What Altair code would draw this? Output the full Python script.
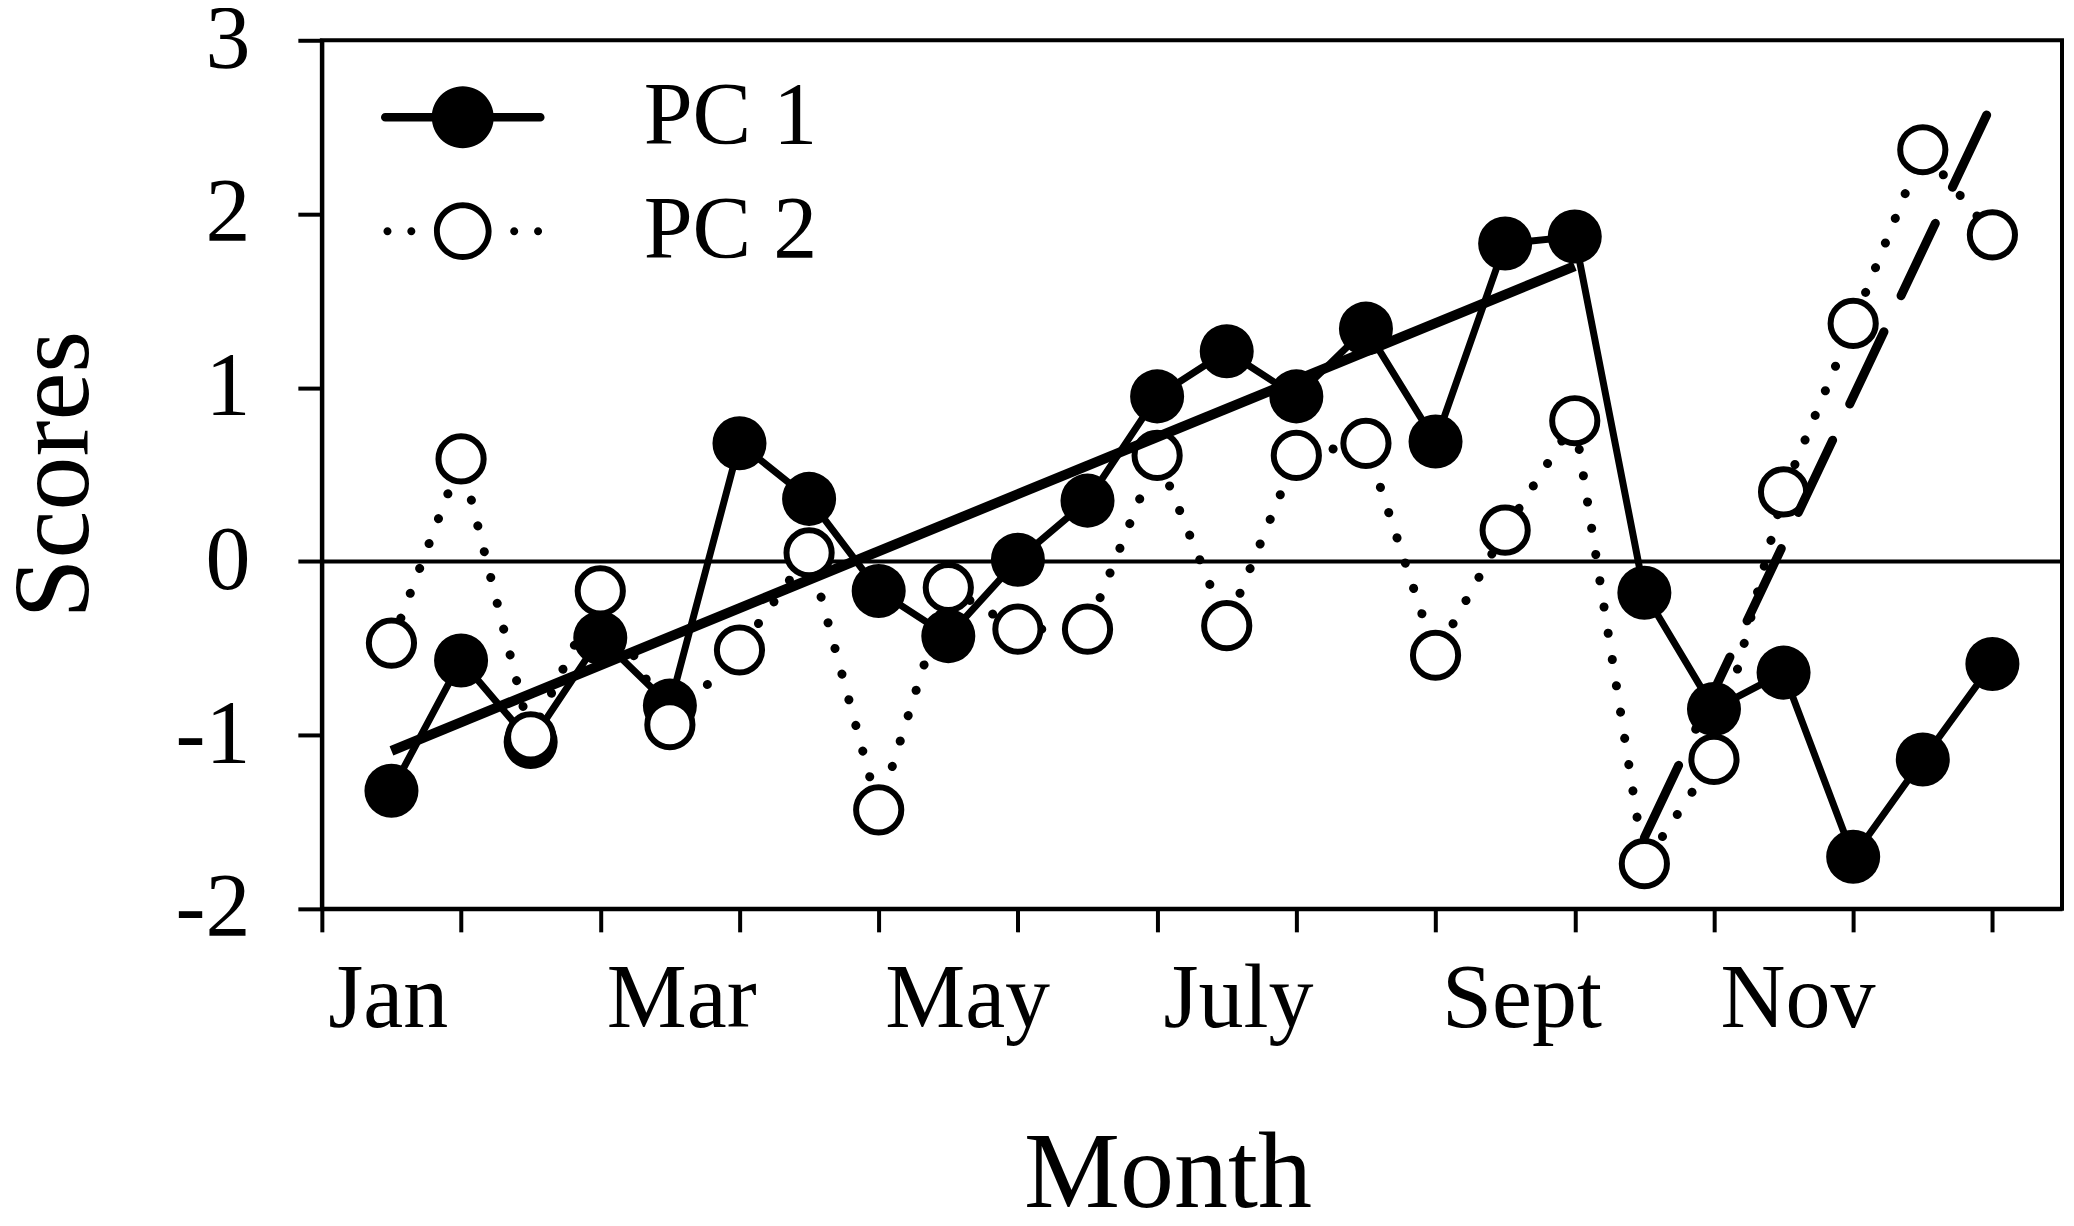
import altair as alt
import pandas as pd

# ---- data ----
months = [0.5 * (i + 1) for i in range(24)]  # twice-monthly samples, Jan..Dec
pc1 = [-1.32, -0.57, -1.04, -0.44, -0.83, 0.68, 0.36, -0.17, -0.43, 0.01, 0.35, 0.95,
       1.21, 0.95, 1.34, 0.69, 1.83, 1.87, -0.18, -0.85, -0.64, -1.70, -1.14, -0.59]
pc2 = [-0.47, 0.59, -1.01, -0.17, -0.94, -0.51, 0.05, -1.43, -0.15, -0.39, -0.39, 0.61,
       -0.37, 0.61, 0.68, -0.54, 0.18, 0.81, -1.74, -1.14, 0.40, 1.37, 2.37, 1.88]
series_names = ["PC 1", "PC 2"]

trend1_x = [0.5, 9.0]
trend1_y = [-1.09, 1.70]
trend2_x = [9.5, 12.0]
trend2_y = [-1.59, 2.64]

zero_line = [0]

tick_months = list(range(13))
label_positions = [0, 2, 4, 6, 8, 10]
label_names = ["Jan", "Mar", "May", "July", "Sept", "Nov"]
y_ticks = [-2, -1, 0, 1, 2, 3]

FONT = "Liberation Serif"

df1 = pd.DataFrame({"month": months, "score": pc1, "series": series_names[0]})
df2 = pd.DataFrame({"month": months, "score": pc2, "series": series_names[1]})
dft1 = pd.DataFrame({"month": trend1_x, "score": trend1_y})
dft2 = pd.DataFrame({"month": trend2_x, "score": trend2_y})
dfz = pd.DataFrame({"score": zero_line})

label_expr = " : ".join(
    f"datum.value == {p} ? '{n}'" for p, n in zip(label_positions, label_names)
) + " : ''"

x_scale = alt.Scale(domain=[0, 12.5], nice=False, zero=False)
y_scale = alt.Scale(domain=[-2, 3], nice=False, zero=False)

x_enc = alt.X(
    "month:Q",
    scale=x_scale,
    axis=alt.Axis(
        values=tick_months,
        labelExpr=label_expr,
        labelAlign="left",
        labelBaseline="alphabetic",
        labelPadding=95,
        labelOffset=6,
        labelFlush=False,
        labelOverlap=False,
        labelFont=FONT,
        labelFontSize=90,
        labelColor="black",
        tickSize=23,
        tickWidth=4,
        tickColor="black",
        domainWidth=4,
        domainColor="black",
        grid=False,
        title="Month",
        titleFont=FONT,
        titleFontSize=108,
        titleFontWeight="normal",
        titleColor="black",
        titleBaseline="alphabetic",
        titleX=846,
        titleY=298,
    ),
)
y_enc = alt.Y(
    "score:Q",
    scale=y_scale,
    axis=alt.Axis(
        values=y_ticks,
        labelExpr="datum.value + ''",
        labelAlign="right",
        labelBaseline="middle",
        labelPadding=48,
        labelFont=FONT,
        labelFontSize=90,
        labelColor="black",
        tickSize=24,
        tickWidth=4,
        tickColor="black",
        domainWidth=4,
        domainColor="black",
        grid=False,
        title="Scores",
        titleFont=FONT,
        titleFontSize=108,
        titleFontWeight="normal",
        titleColor="black",
        titleAngle=-90,
        titleAlign="center",
        titleBaseline="alphabetic",
        titleX=-234,
        titleY=434,
    ),
)

zero = alt.Chart(dfz).mark_rule(color="black", strokeWidth=4).encode(
    y=alt.Y("score:Q", scale=y_scale)
)

pc1_line = alt.Chart(df1).mark_line(color="black", strokeWidth=7).encode(x=x_enc, y=y_enc)
pc1_pts = alt.Chart(df1).mark_circle(color="black", size=2922, opacity=1).encode(x=x_enc, y=y_enc)

pc2_line = alt.Chart(df2).mark_line(
    color="black", strokeWidth=9, strokeDash=[0.1, 26.5], strokeCap="round"
).encode(x=x_enc, y=y_enc)
pc2_pts = alt.Chart(df2).mark_point(
    shape="circle", filled=False, fill="white", fillOpacity=1, stroke="black",
    strokeWidth=6, size=2043, opacity=1
).encode(x=x_enc, y=y_enc)

trend1 = alt.Chart(dft1).mark_line(color="black", strokeWidth=10).encode(x=x_enc, y=y_enc)
trend2 = alt.Chart(dft2).mark_line(
    color="black", strokeWidth=9, strokeDash=[80, 40], strokeCap="round"
).encode(x=x_enc, y=y_enc)


# legend symbols: line + marker drawn as one filled custom path (1 unit = 31 px)
def disc(cx, r, sweep=1):
    return (f"M{cx + r},0A{r},{r},0,1,{sweep},{cx - r},0"
            f"A{r},{r},0,1,{sweep},{cx + r},0Z")


path_pc1 = "M-2.5,-0.14H2.5V0.14H-2.5Z" + disc(0, 1.0) + disc(-2.5, 0.14) + disc(2.5, 0.14)
path_pc2 = (disc(0, 0.93) + disc(0, 0.74, sweep=0)
            + disc(-2.43, 0.13) + disc(-1.66, 0.13) + disc(1.66, 0.13) + disc(2.43, 0.13))

legend_layer = alt.Chart(pd.concat([df1, df2])).transform_filter("false").mark_point(
    filled=True, color="black", opacity=1
).encode(
    x=x_enc,
    y=y_enc,
    shape=alt.Shape(
        "series:N",
        scale=alt.Scale(domain=series_names, range=[path_pc1, path_pc2]),
        legend=alt.Legend(title=None, symbolOpacity=1, symbolFillColor="black",
                          symbolStrokeWidth=0),
    ),
)

chart = alt.layer(
    zero, pc1_line, pc1_pts, pc2_line, pc2_pts, trend1, trend2, legend_layer
).properties(
    width=1741,
    height=869,
    autosize=alt.AutoSizeParams(type="none"),
    padding={"left": 314, "top": 32, "right": 4, "bottom": 300},
    background="white",
).configure_view(
    stroke="black", strokeWidth=4
).configure_legend(
    orient="none",
    legendX=97,
    legendY=33,
    padding=0,
    labelFont=FONT,
    labelFontSize=88,
    labelColor="black",
    labelOffset=137,
    symbolSize=3844,
    rowPadding=26,
    labelLimit=0,
)

chart.save("out.html", embed_options={"renderer": "svg", "actions": False})
